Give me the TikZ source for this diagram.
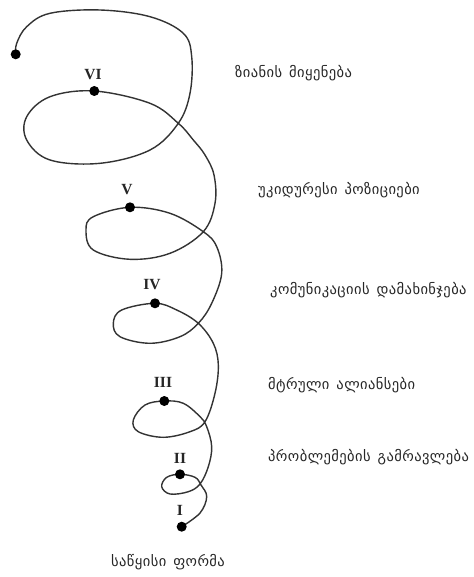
\documentclass[tikz,border=0pt]{standalone}
\usepackage{fontspec}
\setmainfont{Liberation Serif}
\newfontfamily\geofont[LetterSpace=3]{DejaVu Sans}
\newcommand{\wgap}{\hspace{7pt}}
\begin{document}
\begin{tikzpicture}[x=1pt,y=-1pt,
  dotnode/.style={circle,fill=black,inner sep=0pt,minimum size=10pt},
  numlabel/.style={font=\fontsize{15.5}{15.5}\selectfont\bfseries,text=black!85,inner sep=0pt},
  geolabel/.style={font=\geofont\fontsize{14.5}{14.5}\selectfont,text=black!85,anchor=west,inner sep=0pt},
  spiral/.style={line width=1.4pt,draw=black!80}]
\useasboundingbox (0,0) rectangle (473,577);
\fill[white] (0,0) rectangle (473,577);
% spiral
\draw[spiral] plot[smooth,tension=0.6] coordinates {
(181.7,526.7) (200,513) (206.7,496.7) (201,485) (195,477.3) (180,474.3)
(166.7,477.3) (161.7,486.7) (170,494) (188.3,491.7) (200,484)
(208.3,466.7) (211.7,446.7) (206.7,426.7) (200,416.7) (183.3,403.3) (164.3,401)
(145,405) (133.3,420) (138.3,431.7) (163.3,437.3) (190,431.7) (205,421.7)
(215,393.3) (218.3,365) (213.3,343.3) (198.3,323.3) (176.7,310) (155,303.3)
(121.7,310) (113.3,323.3) (120,336.7) (150,343.3) (180,336.7) (198.3,323.3)
(211.7,303.3) (221.7,273.3) (216.7,246.7) (203.3,231.7) (170,213.3) (130,207.3)
(93.3,216.7) (86,230) (93.3,250) (130,259.3) (170,253.3) (203.3,231.7)
(215,203.3) (214,175) (205,155) (193.3,140) (178.3,123.3) (150,103.3) (94.3,91)
(50,96.7) (26.7,116.7) (26.7,140) (50,160) (100,163.3) (150,150) (178.3,123.3)
(190,93.3) (191.7,56.7) (183.3,33.3) (150,16.7) (100,10) (50,13.3) (26.7,26.7)
(16.7,43.3) (15.7,54.3)};
% dots
\node[dotnode] (pI) at (181.7,526.7) {};
\node[dotnode] (pII) at (180,474.3) {};
\node[dotnode] (pIII) at (164.3,401) {};
\node[dotnode] (pIV) at (155,303.3) {};
\node[dotnode] (pV) at (130,207.3) {};
\node[dotnode] (pVI) at (94.3,91) {};
\node[dotnode] (pend) at (15.7,54.3) {};
% numerals
\node[numlabel] (lI) at (180,510) {I};
\node[numlabel] (lII) at (180,458) {II};
\node[numlabel] (lIII) at (163,382) {III};
\node[numlabel] (lIV) at (152,285) {IV};
\node[numlabel] (lV) at (127,190) {V};
\node[numlabel] (lVI) at (93,75) {VI};
% texts
\node[geolabel] (t6) at (235,73) {ზიანის\wgap მიყენება};
\node[geolabel] (t5) at (258,190) {უკიდურესი\wgap პოზიციები};
\node[geolabel] (t4) at (270,290) {კომუნიკაციის\wgap დამახინჯება};
\node[geolabel] (t3) at (268,385) {მტრული\wgap ალიანსები};
\node[geolabel] (t2) at (268,457) {პრობლემების\wgap გამრავლება};
\node[geolabel,anchor=center] (t1) at (168,562) {საწყისი\wgap ფორმა};
\end{tikzpicture}
\end{document}
